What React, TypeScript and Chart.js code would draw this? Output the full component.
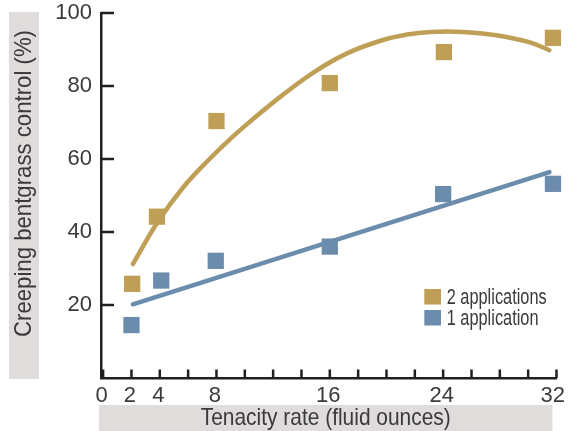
import React, { useEffect, useRef } from 'react';
import { Chart, registerables } from 'chart.js';

Chart.register(...registerables);

// ---- data ----
const xTickMarks = [0, 2, 4, 6, 8, 10, 12, 14, 16, 18, 20, 22, 24, 26, 28, 30, 32];
const xTickLabels = [0, 2, 4, 8, 16, 24, 32];
const yTickValues = [20, 40, 60, 80, 100];

// observed points (x = rate in fluid ounces, y = % control)
const twoAppX = [2.05, 3.8, 8, 16, 24.05, 31.75];
const twoAppY = [25.8, 44.2, 70.4, 80.8, 89.3, 93.2];
const oneAppX = [2, 4.1, 7.95, 16, 24, 31.75];
const oneAppY = [14.5, 26.7, 32.1, 36.0, 50.4, 53.2];

// fitted curves
const twoFitX = [2.1, 3.83, 5.6, 7.46, 9.09, 10.26, 12.59, 14.92, 17.25, 19.58, 21.45, 23.08, 25.41, 27.74, 30.07, 31.5];
const twoFitY = [31.2, 42.6, 52.0, 59.8, 65.9, 69.9, 77.3, 83.9, 89.0, 92.4, 94.1, 94.8, 94.8, 93.9, 92.0, 89.8];
const oneFitX = [2.1, 31.5];
const oneFitY = [20.2, 56.4];

const seriesNames = ['2 applications', '1 application'];
const xTitle = 'Tenacity rate (fluid ounces)';
const yTitle = 'Creeping bentgrass control (%)';

// ---- styles ----
const GOLD = '#bf9f56';
const BLUE = '#6b8cad';
const AXIS = '#231f20';
const TEXT = '#3a3a3a';
const BOX = '#e0dcdc';
const FAMILY = '"Liberation Sans", Arial, sans-serif';

const pts = (xs: number[], ys: number[]) => xs.map((x, i) => ({ x, y: ys[i] }));

function drawCondensed(
  ctx: CanvasRenderingContext2D,
  text: string,
  x: number,
  y: number,
  sx: number,
  align: CanvasTextAlign,
  rot = 0
) {
  ctx.save();
  ctx.translate(x, y);
  if (rot) ctx.rotate(rot);
  ctx.scale(sx, 1);
  ctx.textAlign = align;
  ctx.textBaseline = 'alphabetic';
  ctx.fillText(text, 0, 0);
  ctx.restore();
}

const decor = {
  id: 'decor',
  beforeDraw(chart: any) {
    const { ctx, chartArea } = chart;
    ctx.save();
    ctx.fillStyle = BOX;
    ctx.fillRect(9, chartArea.top - 1, 30, chartArea.bottom - chartArea.top + 2);
    ctx.fillRect(chartArea.left - 2, chartArea.bottom + 27, chartArea.right - chartArea.left - 2, 30);
    ctx.restore();
  },
  afterDraw(chart: any) {
    const { ctx, chartArea, scales } = chart;
    const xs = scales.x;
    const ys = scales.y;
    ctx.save();
    // inward tick marks
    ctx.strokeStyle = AXIS;
    ctx.lineWidth = 2.5;
    ctx.beginPath();
    yTickValues.forEach((v) => {
      const py = ys.getPixelForValue(v);
      ctx.moveTo(chartArea.left, py);
      ctx.lineTo(chartArea.left + 13, py);
    });
    xTickMarks.forEach((v) => {
      const px = xs.getPixelForValue(v);
      ctx.moveTo(px, chartArea.bottom);
      ctx.lineTo(px, chartArea.bottom - 8.5);
    });
    ctx.stroke();

    // x tick labels
    ctx.fillStyle = TEXT;
    ctx.font = `22px ${FAMILY}`;
    ctx.textBaseline = 'alphabetic';
    ctx.textAlign = 'center';
    xTickLabels.forEach((v) => {
      const s = String(v);
      const w = ctx.measureText(s).width;
      let cx = xs.getPixelForValue(v) - 1.5;
      if (cx + w / 2 > chart.width - 3) cx = chart.width - 3 - w / 2;
      ctx.fillText(s, cx, chartArea.bottom + 23.5);
    });

    // axis titles (condensed)
    ctx.font = `24px ${FAMILY}`;
    const xw = ctx.measureText(xTitle).width;
    drawCondensed(ctx, xTitle, (chartArea.left + chartArea.right) / 2 - 3, chartArea.bottom + 46.5, 250 / xw, 'center');
    const yw = ctx.measureText(yTitle).width;
    drawCondensed(ctx, yTitle, 30.5, 183.5, 307 / yw, 'center', -Math.PI / 2);

    // legend
    ctx.font = `22px ${FAMILY}`;
    const lw = ctx.measureText(seriesNames[0]).width;
    const lsx = 100 / lw;
    const colors = [GOLD, BLUE];
    seriesNames.forEach((name, i) => {
      const top = 289 + i * 21;
      ctx.fillStyle = colors[i];
      ctx.fillRect(424.3, top, 16.7, 15.5);
      ctx.fillStyle = TEXT;
      drawCondensed(ctx, name, 446.7, top + 14.5, lsx, 'left');
    });
    ctx.restore();
  },
};

export default function App() {
  const ref = useRef<HTMLCanvasElement | null>(null);

  useEffect(() => {
    document.body.style.margin = '0';
    const canvas = ref.current;
    if (!canvas) return;
    const chart = new Chart(canvas, {
      type: 'scatter',
      data: {
        datasets: [
          {
            label: seriesNames[0] + ' fit',
            data: pts(twoFitX, twoFitY),
            showLine: true,
            borderColor: GOLD,
            borderWidth: 4.5,
            borderCapStyle: 'round',
            pointRadius: 0,
            tension: 0.4,
            clip: false,
          } as any,
          {
            label: seriesNames[1] + ' fit',
            data: pts(oneFitX, oneFitY),
            showLine: true,
            borderColor: BLUE,
            borderWidth: 4.5,
            borderCapStyle: 'round',
            pointRadius: 0,
            clip: false,
          } as any,
          {
            label: seriesNames[0],
            data: pts(twoAppX, twoAppY),
            pointStyle: 'rect',
            pointRadius: 11.5,
            pointBorderWidth: 0,
            backgroundColor: GOLD,
            borderColor: GOLD,
            clip: false,
          } as any,
          {
            label: seriesNames[1],
            data: pts(oneAppX, oneAppY),
            pointStyle: 'rect',
            pointRadius: 11.5,
            pointBorderWidth: 0,
            backgroundColor: BLUE,
            borderColor: BLUE,
            clip: false,
          } as any,
        ],
      },
      options: {
        animation: false,
        responsive: false,
        devicePixelRatio: window.devicePixelRatio || 1,
        layout: { padding: { top: 13, right: 7, left: 0, bottom: 0 } },
        plugins: { legend: { display: false }, tooltip: { enabled: false } },
        scales: {
          x: {
            type: 'linear',
            min: -0.15,
            max: 32,
            grid: { display: false, drawTicks: false },
            border: { display: true, color: AXIS, width: 2.5 },
            ticks: { display: false },
            afterFit: (s: any) => {
              s.height = 53;
              s.paddingLeft = 0;
              s.paddingRight = 0;
            },
          },
          y: {
            type: 'linear',
            min: 0,
            max: 100,
            grid: { display: false, drawTicks: false },
            border: { display: true, color: AXIS, width: 2.5 },
            ticks: {
              padding: 9,
              color: TEXT,
              font: { family: FAMILY, size: 22 },
            },
            afterBuildTicks: (s: any) => {
              s.ticks = yTickValues.map((v) => ({ value: v }));
            },
            afterFit: (s: any) => {
              s.width = 101;
              s.paddingTop = 0;
              s.paddingBottom = 0;
            },
          },
        },
      } as any,
      plugins: [decor],
    });
    return () => chart.destroy();
  }, []);

  return (
    <div style={{ position: 'relative', width: 568, height: 431, background: '#ffffff' }}>
      <canvas ref={ref} width={568} height={431} style={{ display: 'block', width: 568, height: 431 }} />
    </div>
  );
}
